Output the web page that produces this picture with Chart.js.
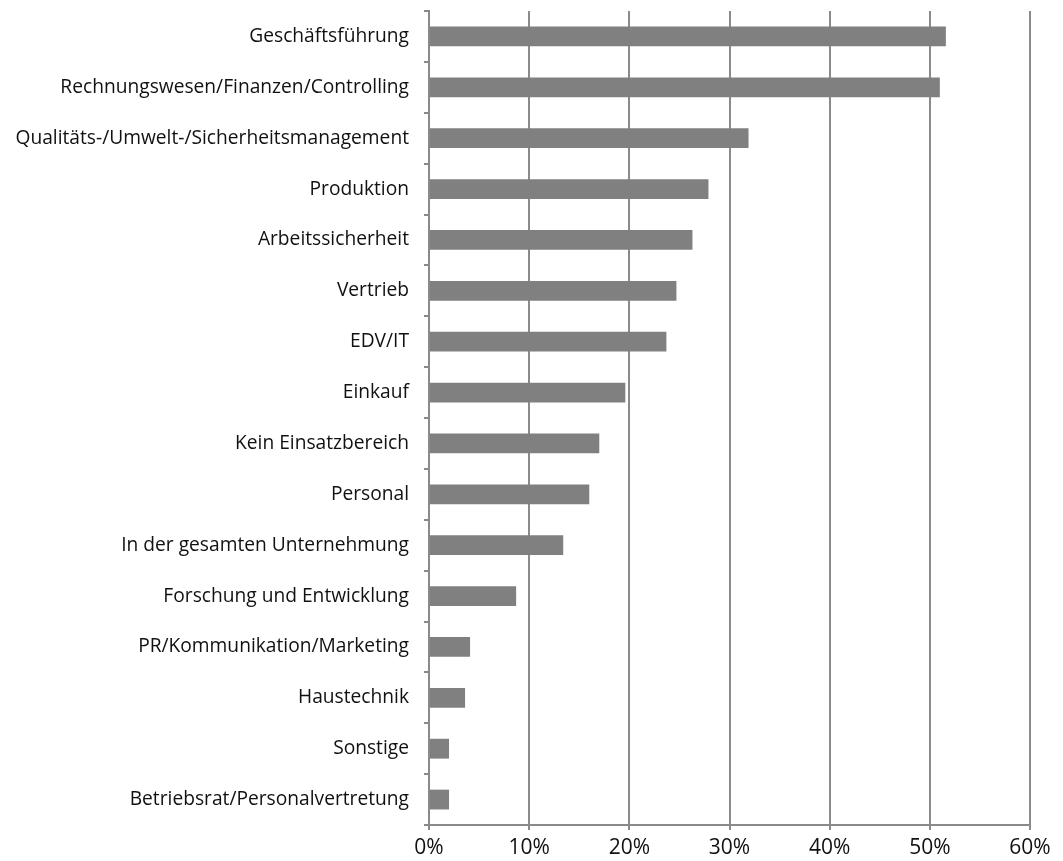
<!DOCTYPE html>
<html>
<head>
<meta charset="utf-8">
<script src="https://cdn.jsdelivr.net/npm/chart.js@4"></script>
<style>
  html, body { margin: 0; padding: 0; background: #fff; }
  #wrap { width: 1063px; height: 861px; }
</style>
</head>
<body>
<div id="wrap"><canvas id="barChart"></canvas></div>
<script>
const categories = [
  'Geschäftsführung',
  'Rechnungswesen/Finanzen/Controlling',
  'Qualitäts-/Umwelt-/Sicherheitsmanagement',
  'Produktion',
  'Arbeitssicherheit',
  'Vertrieb',
  'EDV/IT',
  'Einkauf',
  'Kein Einsatzbereich',
  'Personal',
  'In der gesamten Unternehmung',
  'Forschung und Entwicklung',
  'PR/Kommunikation/Marketing',
  'Haustechnik',
  'Sonstige',
  'Betriebsrat/Personalvertretung'
];
const shares = [51.6, 51.0, 31.9, 27.9, 26.3, 24.7, 23.7, 19.6, 17.0, 16.0, 13.4, 8.7, 4.1, 3.6, 2.0, 2.0];
const xTicks = [0, 10, 20, 30, 40, 50, 60];

const axisGray = '#8a8a8a';
const fontFamily = '"Open Sans", "DejaVu Sans", sans-serif';

var ctx = document.getElementById('barChart').getContext('2d');
var myChart = new Chart(ctx, {
  type: 'bar',
  data: {
    labels: categories,
    datasets: [{
      data: shares,
      backgroundColor: '#808080',
      borderWidth: 0,
      barPercentage: 0.39,
      categoryPercentage: 1.0
    }]
  },
  options: {
    indexAxis: 'y',
    responsive: true,
    maintainAspectRatio: false,
    animation: false,
    layout: { padding: { top: 11, right: 33, left: 0, bottom: 0 } },
    plugins: {
      legend: { display: false },
      tooltip: { enabled: false }
    },
    scales: {
      x: {
        min: 0,
        max: 60,
        afterBuildTicks: (scale) => { scale.ticks = xTicks.map(v => ({ value: v })); },
        afterFit: (scale) => {
          scale.height = 36;
          scale.paddingLeft = 0;
          scale.paddingRight = 0;
        },
        ticks: {
          callback: (v) => v + '%',
          color: '#111',
          font: { family: fontFamily, size: 21 },
          padding: 5,
          maxRotation: 0
        },
        grid: {
          color: axisGray,
          lineWidth: 2,
          tickLength: 5,
          drawTicks: true
        },
        border: { color: axisGray, width: 2 }
      },
      y: {
        afterFit: (scale) => {
          scale.width = 429;
          scale.paddingTop = 0;
          scale.paddingBottom = 0;
        },
        ticks: {
          color: '#111',
          font: { family: fontFamily, size: 19.2 },
          padding: 15,
          autoSkip: false
        },
        grid: {
          offset: true,
          drawOnChartArea: false,
          color: axisGray,
          lineWidth: 2,
          tickLength: 5
        },
        border: { color: axisGray, width: 2 }
      }
    }
  }
});
</script>
</body>
</html>
